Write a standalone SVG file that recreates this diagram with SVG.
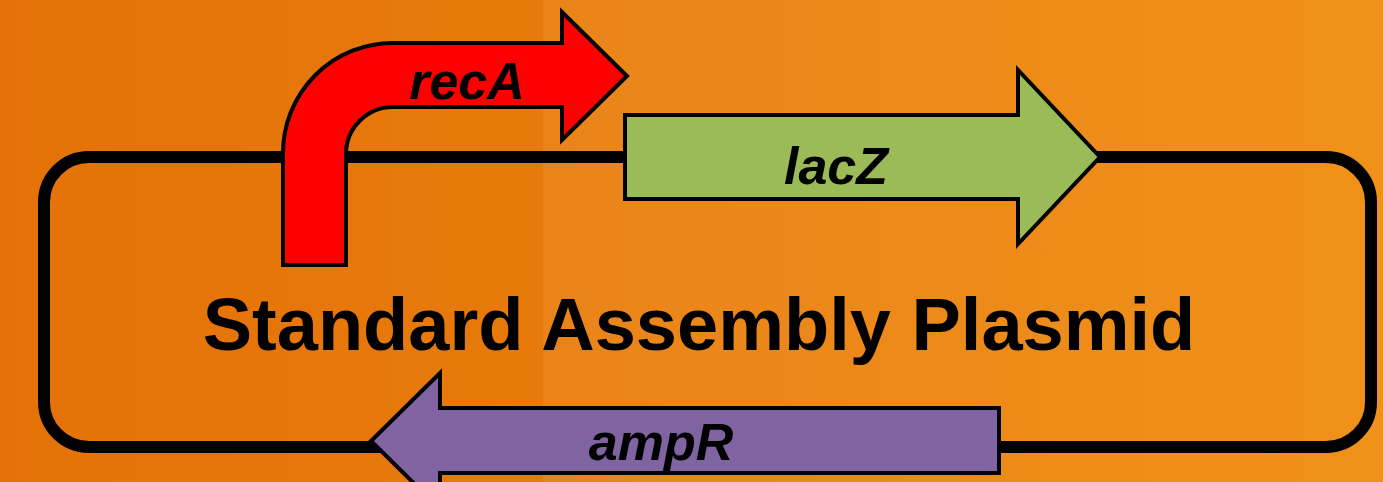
<svg xmlns="http://www.w3.org/2000/svg" width="1383" height="482" viewBox="0 0 1383 482">
<style>
.gene{stroke:#000;stroke-width:4;stroke-linejoin:miter}
.lbl{font-family:"Liberation Sans",Arial,sans-serif;font-weight:bold;font-style:italic;font-size:52px;fill:#000;text-anchor:middle}
.title{font-family:"Liberation Sans",Arial,sans-serif;font-weight:bold;font-size:74px;fill:#000;text-anchor:middle}
</style>
<defs>
<linearGradient id="bgL" x1="0" y1="0" x2="1" y2="0"><stop offset="0" stop-color="#E47208"/><stop offset="1" stop-color="#E87A0B"/></linearGradient>
<linearGradient id="bgR" x1="0" y1="0" x2="1" y2="0"><stop offset="0" stop-color="#EA8419"/><stop offset="1" stop-color="#F09119"/></linearGradient>
</defs>
<rect x="0" y="0" width="543" height="482" fill="url(#bgL)"/>
<rect x="543" y="0" width="840" height="482" fill="url(#bgR)"/>
<g id="connectors">
<rect x="44" y="157" width="1327" height="290" rx="45" ry="45" fill="none" stroke="#000" stroke-width="12"/>
</g>
<g id="recA">
<path class="gene" fill="#FF0000" d="M283 265 L283 153 A110 110 0 0 1 393 43 L562 43 L562 12 L627 76 L562 140 L562 107 L393 107 A47 47 0 0 0 346 154 L346 265 Z"/>
<text class="lbl" x="467" y="99">recA</text>
</g>
<g id="lacZ">
<path class="gene" fill="#9BBB59" d="M625 115 L1018 115 L1018 70 L1100 157 L1018 244 L1018 199 L625 199 Z"/>
<text class="lbl" x="836" y="184">lacZ</text>
</g>
<g id="ampR">
<path class="gene" fill="#8064A2" d="M999 408 L440 408 L440 373 L371 441 L440 509 L440 473 L999 473 Z"/>
<text class="lbl" x="661" y="460">ampR</text>
</g>
<g id="title">
<text class="title" x="699" y="350">Standard Assembly Plasmid</text>
</g>
</svg>
